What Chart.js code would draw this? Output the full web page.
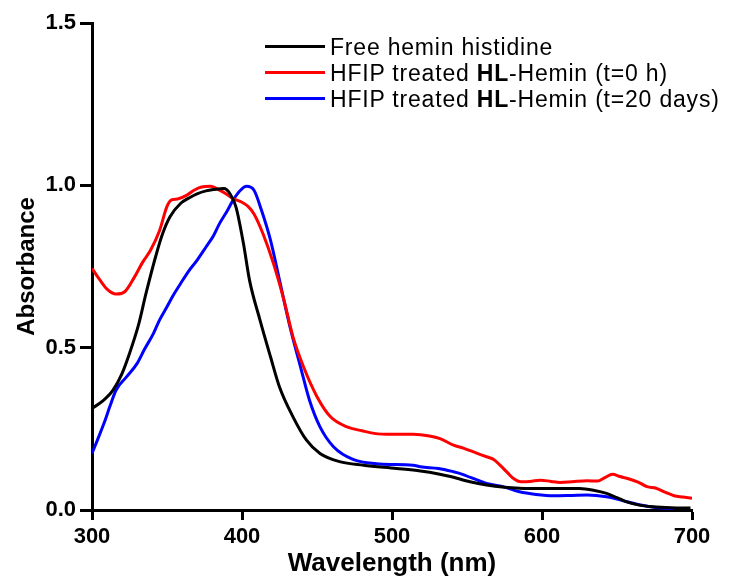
<!DOCTYPE html>
<html>
<head>
<meta charset="utf-8">
<script src="https://cdn.jsdelivr.net/npm/chart.js@4.4.1/dist/chart.umd.min.js"></script>
<style>
  html, body { margin: 0; padding: 0; background: #fff; }
  #wrap { position: relative; width: 731px; height: 581px; }
  #legend { position: absolute; left: 0; top: 0; width: 731px; height: 581px; pointer-events: none;
            font-family: 'Liberation Sans', Arial, sans-serif; font-size: 23px; letter-spacing: 0.8px; color: #000; }
  .row { position: absolute; left: 265px; height: 26px; line-height: 26px; white-space: nowrap; }
  .swatch { position: absolute; left: 0; top: 11px; width: 60px; height: 3px; }
  .label { position: absolute; left: 65px; top: 0; }
</style>
</head>
<body>
<div id="wrap">
  <canvas id="c" width="731" height="581"></canvas>
  <div id="legend"></div>
</div>
<script>
// ---- data ----
const seriesNames = [
  'Free hemin histidine',
  'HFIP treated <b>HL</b>-Hemin (t=0 h)',
  'HFIP treated <b>HL</b>-Hemin (t=20 days)'
];
const xTicks = [300, 400, 500, 600, 700];
const yTicks = [0.0, 0.5, 1.0, 1.5];

const blackWl  = [300,307,314,320,325,331,336,343,347,352,359,365,370,376,381,388,392,396,401,405,412,419,425,434,443,452,465,481,503,519,531,539,552,563,575,585,600,625,635,643,650,656,665,674,686,699];
const blackAbs = [0.313,0.335,0.369,0.42,0.482,0.57,0.667,0.79,0.85,0.903,0.944,0.962,0.974,0.983,0.987,0.99,0.974,0.933,0.82,0.708,0.585,0.472,0.379,0.287,0.215,0.174,0.149,0.138,0.128,0.12,0.111,0.103,0.087,0.077,0.07,0.067,0.066,0.066,0.06,0.051,0.038,0.026,0.015,0.01,0.007,0.006];

const redWl  = [300,305,310,316,322,328,334,339,345,350,353,357,363,368,373,379,385,390,394,400,404,408,414,421,428,434,441,450,459,470,480,488,500,514,525,532,541,548,556,563,568,572,577,581,586,592,599,606,612,620,630,637,642,647,652,657,664,670,676,682,688,694,700];
const redAbs = [0.744,0.71,0.68,0.665,0.673,0.715,0.765,0.80,0.86,0.935,0.955,0.958,0.969,0.985,0.995,0.997,0.985,0.972,0.959,0.948,0.935,0.912,0.851,0.759,0.646,0.533,0.441,0.349,0.287,0.256,0.244,0.236,0.233,0.233,0.228,0.22,0.2,0.19,0.176,0.164,0.155,0.138,0.115,0.097,0.087,0.088,0.092,0.088,0.085,0.087,0.09,0.089,0.1,0.11,0.103,0.097,0.086,0.072,0.067,0.055,0.044,0.04,0.036];

const blueWl  = [300,304,308,312,316,323,330,335,341,345,350,354,359,364,370,376,381,385,390,394,399,403,408,413,419,425,432,439,445,452,461,474,492,514,519,531,541,545,563,574,585,596,608,620,630,643,650,656,664,672,680,688];
const blueAbs = [0.174,0.22,0.267,0.32,0.369,0.41,0.451,0.495,0.544,0.585,0.626,0.66,0.697,0.733,0.769,0.81,0.845,0.882,0.92,0.954,0.985,0.997,0.985,0.923,0.831,0.708,0.564,0.441,0.338,0.256,0.195,0.156,0.142,0.138,0.133,0.128,0.118,0.113,0.082,0.072,0.056,0.048,0.044,0.045,0.046,0.041,0.034,0.026,0.017,0.01,0.006,0.004];

const colors = ['#000000', '#ff0000', '#0000ff'];

// ---- build chart ----
const FAMILY = "'Liberation Sans', Arial, Helvetica, sans-serif";
const pts = (xs, ys) => xs.map((x, i) => ({ x: x, y: ys[i] }));
const wl = [blackWl, redWl, blueWl];
const ab = [blackAbs, redAbs, blueAbs];

const datasets = wl.map((xs, i) => ({
  label: seriesNames[i].replace(/<[^>]+>/g, ''),
  data: pts(xs, ab[i]),
  borderColor: colors[i],
  backgroundColor: colors[i],
  borderWidth: 3,
  pointRadius: 0,
  fill: false,
  cubicInterpolationMode: 'monotone'
}));

const tickFont = { family: FAMILY, size: 22, weight: 'bold' };

new Chart(document.getElementById('c'), {
  type: 'line',
  data: { datasets: datasets },
  options: {
    responsive: false,
    animation: false,
    devicePixelRatio: 1,
    layout: { padding: { top: 23, right: 39, left: 0, bottom: 0 } },
    plugins: { legend: { display: false }, tooltip: { enabled: false } },
    scales: {
      x: {
        type: 'linear', min: xTicks[0], max: xTicks[xTicks.length - 1],
        afterBuildTicks: s => { s.ticks = xTicks.map(v => ({ value: v })); },
        ticks: { color: '#000', font: tickFont, padding: 4, maxRotation: 0, callback: v => String(v) },
        grid: { drawOnChartArea: false, drawTicks: true, tickLength: 10, tickWidth: 3, color: '#000', tickColor: '#000' },
        border: { display: true, color: '#000', width: 3 },
        title: { display: true, text: 'Wavelength (nm)', color: '#000',
                 font: { family: FAMILY, size: 26, weight: 'bold' }, padding: { top: 0, bottom: 2 } },
        afterFit: s => { s.height = 71; }
      },
      y: {
        type: 'linear', min: yTicks[0], max: yTicks[yTicks.length - 1],
        afterBuildTicks: s => { s.ticks = yTicks.map(v => ({ value: v })); },
        ticks: { color: '#000', font: tickFont, padding: 4, callback: v => Number(v).toFixed(1) },
        grid: { drawOnChartArea: false, drawTicks: true, tickLength: 12, tickWidth: 3, color: '#000', tickColor: '#000' },
        border: { display: true, color: '#000', width: 3 },
        title: { display: true, text: 'Absorbance', color: '#000',
                 font: { family: FAMILY, size: 24, weight: 'bold' }, padding: { top: 13, bottom: 0 } },
        afterFit: s => { s.width = 92; }
      }
    }
  }
});

// ---- legend (HTML, real text) ----
const legend = document.getElementById('legend');
const rowTops = [34, 60, 86];
seriesNames.forEach((name, i) => {
  const row = document.createElement('div');
  row.className = 'row';
  row.style.top = rowTops[i] + 'px';
  const sw = document.createElement('div');
  sw.className = 'swatch';
  sw.style.background = colors[i];
  const lab = document.createElement('span');
  lab.className = 'label';
  lab.innerHTML = name;
  row.appendChild(sw);
  row.appendChild(lab);
  legend.appendChild(row);
});
</script>
</body>
</html>
